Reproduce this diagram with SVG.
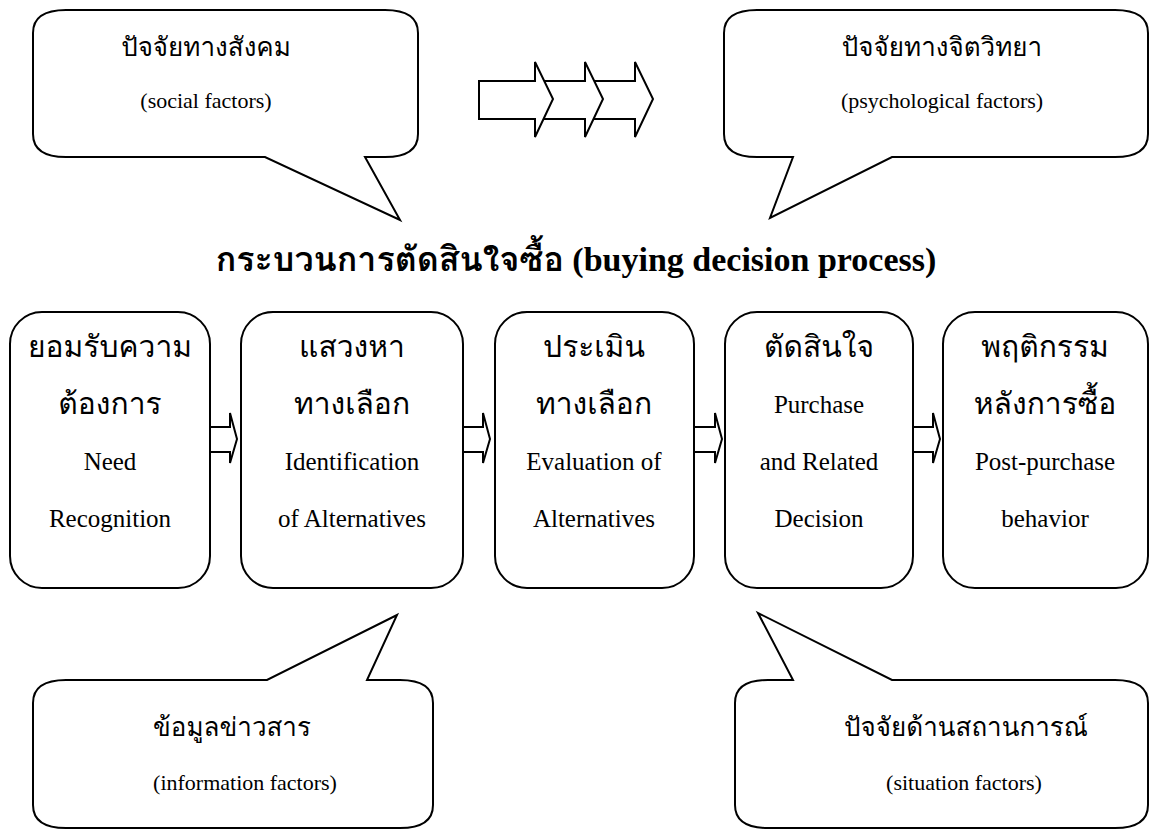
<svg xmlns="http://www.w3.org/2000/svg" width="1152" height="833" viewBox="0 0 1152 833">
<style>
.shape{fill:#fff;stroke:#000;stroke-width:2;stroke-linejoin:miter}
.t{fill:#000;text-anchor:middle}
.th{font-family:"Norasi","Kinnari","Laksaman","Garuda","Loma","Noto Serif Thai","Noto Sans Thai","Liberation Serif",serif;font-size:30px}
.en{font-family:"Liberation Serif","Times New Roman",serif;font-size:25px}
.cth{font-family:"Norasi","Kinnari","Laksaman","Garuda","Loma","Noto Serif Thai","Noto Sans Thai","Liberation Serif",serif;font-size:26px}
.cen{font-family:"Liberation Serif","Times New Roman",serif;font-size:22px}
.title{font-size:34px;font-weight:bold}
.tth{font-family:"Norasi","Kinnari","Laksaman","Garuda","Loma","Noto Serif Thai","Noto Sans Thai","Liberation Serif",serif}
.ten{font-family:"Liberation Serif","Times New Roman",serif}
</style>
<rect width="1152" height="833" fill="#fff"/>

<g id="callout-social">
<path class="shape" d="M66,10 H385 Q418,10 418,33 V134 Q418,157 385,157 H365 L400,220 L265,157 H66 Q33,157 33,134 V33 Q33,10 66,10 Z"/>
<text class="t cth" x="206" y="56">ปัจจัยทางสังคม</text>
<text class="t cen" x="206" y="108">(social factors)</text>
</g>

<g id="callout-psychological">
<path class="shape" d="M757,10 H1115 Q1148,10 1148,33 V134 Q1148,157 1115,157 H892 L770,218 L793,157 H757 Q724,157 724,134 V33 Q724,10 757,10 Z"/>
<text class="t cth" x="942" y="56">ปัจจัยทางจิตวิทยา</text>
<text class="t cen" x="942" y="108">(psychological factors)</text>
</g>

<g id="triple-arrow">
<path class="shape" d="M579,81 H635 V62 L653,99 L635,137 V119 H579 Z"/>
<path class="shape" d="M529,81 H585 V62 L603,99 L585,137 V119 H529 Z"/>
<path class="shape" d="M479,81 H535 V62 L553,99 L535,137 V119 H479 Z"/>
</g>

<g id="title">
<text class="t title" x="576" y="271"><tspan class="tth">กระบวนการตัดสินใจซื้อ</tspan><tspan class="ten"> (buying decision process)</tspan></text>
</g>

<g id="connectors">
<path class="shape" d="M210,427 H230 V413 L237,439 L230,463 V452 H210 Z"/>
<path class="shape" d="M463,427 H483 V413 L490,439 L483,463 V452 H463 Z"/>
<path class="shape" d="M694,427 H715 V413 L722,439 L715,463 V452 H694 Z"/>
<path class="shape" d="M913,427 H933 V413 L940,439 L933,463 V452 H913 Z"/>
</g>

<g id="box-need">
<rect class="shape" x="10" y="312" width="200" height="276" rx="32" ry="32"/>
<text class="t th" x="110" y="357">ยอมรับความ</text>
<text class="t th" x="110" y="414">ต้องการ</text>
<text class="t en" x="110" y="470">Need</text>
<text class="t en" x="110" y="527">Recognition</text>
</g>

<g id="box-identification">
<rect class="shape" x="241" y="312" width="222" height="276" rx="32" ry="32"/>
<text class="t th" x="352" y="357">แสวงหา</text>
<text class="t th" x="352" y="414">ทางเลือก</text>
<text class="t en" x="352" y="470">Identification</text>
<text class="t en" x="352" y="527">of Alternatives</text>
</g>

<g id="box-evaluation">
<rect class="shape" x="495" y="312" width="199" height="276" rx="32" ry="32"/>
<text class="t th" x="594" y="357">ประเมิน</text>
<text class="t th" x="594" y="414">ทางเลือก</text>
<text class="t en" x="594" y="470">Evaluation of</text>
<text class="t en" x="594" y="527">Alternatives</text>
</g>

<g id="box-purchase">
<rect class="shape" x="725" y="312" width="188" height="276" rx="32" ry="32"/>
<text class="t th" x="819" y="357">ตัดสินใจ</text>
<text class="t en" x="819" y="413">Purchase</text>
<text class="t en" x="819" y="470">and Related</text>
<text class="t en" x="819" y="527">Decision</text>
</g>

<g id="box-post">
<rect class="shape" x="943" y="312" width="205" height="276" rx="32" ry="32"/>
<text class="t th" x="1045" y="357">พฤติกรรม</text>
<text class="t th" x="1045" y="414">หลังการซื้อ</text>
<text class="t en" x="1045" y="470">Post-purchase</text>
<text class="t en" x="1045" y="527">behavior</text>
</g>

<g id="callout-information">
<path class="shape" d="M66,680 H267 L397,615 L367,680 H400 Q433,680 433,703 V805 Q433,828 400,828 H66 Q33,828 33,805 V703 Q33,680 66,680 Z"/>
<text class="t cth" x="232" y="736">ข้อมูลข่าวสาร</text>
<text class="t cen" x="245" y="790">(information factors)</text>
</g>

<g id="callout-situation">
<path class="shape" d="M768,680 H793 L758,613 L892,680 H1115 Q1148,680 1148,703 V805 Q1148,828 1115,828 H768 Q735,828 735,805 V703 Q735,680 768,680 Z"/>
<text class="t cth" x="966" y="736">ปัจจัยด้านสถานการณ์</text>
<text class="t cen" x="964" y="790">(situation factors)</text>
</g>
</svg>
